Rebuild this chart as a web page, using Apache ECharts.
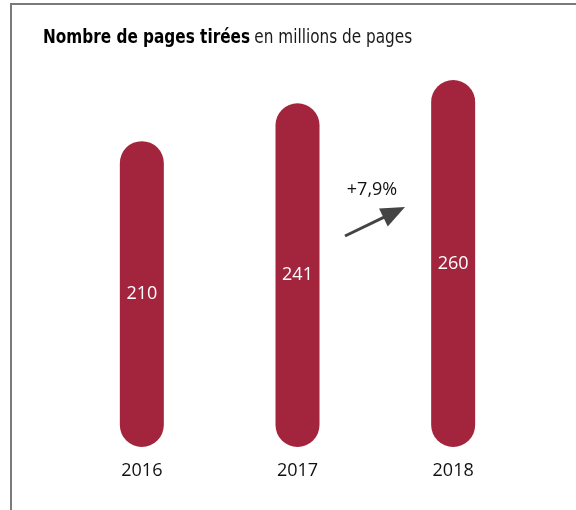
<!DOCTYPE html>
<html>
<head>
<meta charset="utf-8">
<script src="https://cdn.jsdelivr.net/npm/echarts@6/dist/echarts.min.js"></script>
<style>
  html, body { margin: 0; padding: 0; background: #fff; }
  #chart { width: 576px; height: 510px; }
</style>
</head>
<body>
<div id="chart"></div>
<script>
// Pages printed per year, in millions
var years = ['2016', '2017', '2018'];
var pages = [210, 241, 260];
var growthLabel = '+7,9%';
var titleBold = 'Nombre de pages tirées';
var titleRest = 'en millions de pages';

var chart = echarts.init(document.getElementById('chart'));

// Growth arrow between the last two bars
var tail = [345, 236], tip = [405, 207];
var dx = tip[0] - tail[0], dy = tip[1] - tail[1];
var len = Math.sqrt(dx * dx + dy * dy);
var ux = dx / len, uy = dy / len;
var headLen = 24, headHalf = 10;
var bx = tip[0] - ux * headLen, by = tip[1] - uy * headLen;
var px = -uy * headHalf, py = ux * headHalf;

var narrow = '"DejaVu Sans Condensed", "Liberation Sans Narrow", sans-serif';

var option = {
  animation: false,
  backgroundColor: '#fff',
  grid: { left: 64, right: 45, top: 80, bottom: 63 },
  xAxis: {
    type: 'category',
    data: years,
    axisLine: { show: false },
    axisTick: { show: false },
    axisLabel: { margin: 15, fontSize: 18, color: '#111', fontFamily: '"Open Sans", sans-serif' }
  },
  yAxis: {
    type: 'value',
    min: -40,
    max: 260,
    startValue: -40,
    show: false,
    splitLine: { show: false }
  },
  series: [{
    type: 'bar',
    data: pages,
    barWidth: 44,
    itemStyle: { color: '#A3243D', borderRadius: 22 },
    label: {
      show: true,
      position: 'inside',
      color: '#fff',
      fontSize: 18,
      fontFamily: '"Open Sans", sans-serif'
    }
  }],
  graphic: [
    {
      type: 'polyline',
      shape: { points: [[576, 4], [11, 4], [11, 510]] },
      style: { stroke: '#7a7a7a', lineWidth: 2, fill: null }
    },
    // Chart heading, condensed horizontally
    {
      type: 'text',
      x: 43,
      y: 38,
      scaleX: 0.85,
      style: {
        text: '{b|' + titleBold + '}{n|' + titleRest + '}',
        verticalAlign: 'middle',
        rich: {
          b: { fontFamily: narrow, fontWeight: 'bold', fontSize: 20, fill: '#000', padding: [0, 5, 0, 0] },
          n: { fontFamily: narrow, fontWeight: 'normal', fontSize: 20, fill: '#1a1a1a' }
        }
      }
    },
    {
      type: 'line',
      shape: { x1: tail[0], y1: tail[1], x2: bx + ux * 2, y2: by + uy * 2 },
      style: { stroke: '#444', lineWidth: 3 }
    },
    {
      type: 'polygon',
      shape: { points: [tip, [bx + px, by + py], [bx - px, by - py]] },
      style: { fill: '#444' }
    },
    {
      type: 'text',
      x: 372,
      y: 190,
      style: {
        text: growthLabel,
        align: 'center',
        verticalAlign: 'middle',
        fontSize: 18,
        fontFamily: '"Open Sans", sans-serif',
        fill: '#111'
      }
    }
  ]
};

chart.setOption(option);
</script>
</body>
</html>
